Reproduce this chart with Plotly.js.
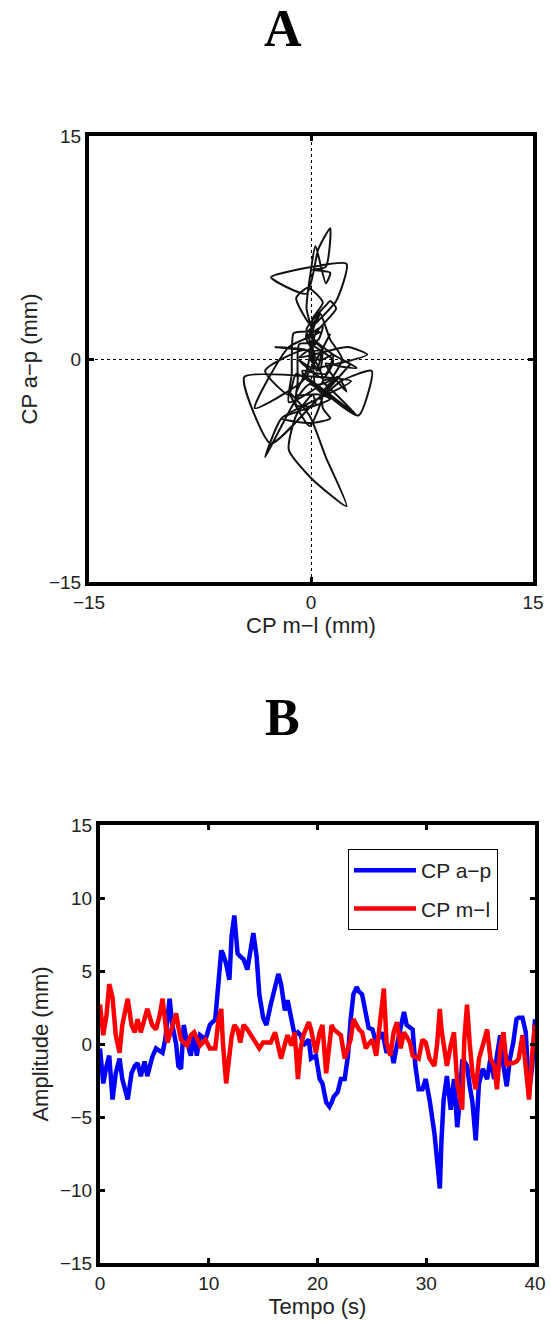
<!DOCTYPE html>
<html><head><meta charset="utf-8">
<script src="https://cdn.plot.ly/plotly-3.0.1.min.js"></script>
<style>html,body{margin:0;padding:0;background:#fff;} #chart{width:551px;height:1321px;}</style>
</head><body><div id="chart"></div>
<script>
// Time (s)
const tempo = [0, 0.3, 0.6, 0.85, 1.15, 1.45, 1.8, 2.05, 2.55, 2.9,
  3.2, 3.45, 3.75, 4.1, 4.35, 4.8, 5.15, 5.5, 5.75, 6.0,
  6.2, 6.4, 6.65, 7.0, 7.2, 7.45, 7.7, 8.0, 8.35, 8.65,
  8.9, 9.2, 9.7, 10.1, 10.6, 10.9, 11.15, 11.3, 11.6, 11.9,
  12.1, 12.35, 12.65, 12.9, 13.2, 13.55, 14.1, 14.4, 14.65, 15.0,
  15.3, 15.7, 16.1, 16.4, 16.65, 17.0, 17.25, 17.6, 17.9, 18.2,
  18.45, 18.7, 19.2, 19.4, 19.85, 20.2, 20.45, 20.8, 21.1, 21.3,
  21.5, 21.85, 22.15, 22.5, 22.8, 23.05, 23.3, 23.6, 23.8, 24.1,
  24.45, 24.7, 25.05, 25.4, 25.7, 25.9, 26.1, 26.35, 26.7, 27.0,
  27.3, 27.65, 27.95, 28.2, 28.5, 28.75, 29.0, 29.3, 29.65, 29.95,
  30.3, 30.75, 31.0, 31.25, 31.4, 31.6, 31.9, 32.25, 32.55, 32.85,
  33.1, 33.3, 33.5, 33.75, 34.0, 34.25, 34.55, 34.85, 35.2, 35.6,
  35.9, 36.25, 36.5, 36.8, 37.1, 37.4, 37.7, 38.0, 38.3, 38.5,
  38.85, 39.15, 39.45, 39.75, 40.0];
// CP a-p (mm)
const cpAP = [-0.3, -2.7, -1.5, -0.8, -3.8, -2.0, -1.0, -2.4, -3.8, -2.0,
  -1.5, -1.3, -2.2, -1.2, -2.2, -0.9, -0.3, -0.5, -0.6, 0.3,
  1.5, 3.1, 1.3, 0.0, -1.5, -1.7, 1.3, 0.1, -0.8, 0.8,
  -0.8, 0.6, 0.3, 1.3, 1.7, 3.9, 6.4, 6.2, 5.5, 4.4,
  7.4, 8.8, 6.2, 6.0, 5.8, 5.1, 7.6, 6.0, 3.4, 1.8,
  1.3, 2.7, 3.8, 4.8, 4.1, 2.3, 3.0, 1.6, 0.6, 0.8,
  0.6, -0.1, 0.3, -1.0, -0.8, -2.4, -2.7, -4.0, -4.3, -4.0,
  -3.6, -3.3, -2.4, -2.4, -0.8, 1.7, 3.4, 3.9, 3.6, 3.4,
  2.0, 1.1, 1.0, 0.1, 0.5, 0.8, 0.3, -0.6, -0.1, -1.3,
  -0.1, 1.3, 2.2, 1.3, 1.1, 1.0, -1.5, -3.1, -3.1, -2.4,
  -3.8, -6.1, -8.0, -9.9, -6.6, -3.8, -2.2, -4.5, -2.4, -5.7,
  -3.8, -1.2, -1.2, -1.5, -2.9, -4.0, -6.6, -2.7, -1.7, -2.4,
  -1.0, -2.4, -0.8, 0.6, -1.5, -2.9, -1.0, 0.1, 1.7, 1.8,
  1.8, 0.8, -3.3, -1.5, 1.7];
// CP m-l (mm)
const cpML = [2.7, 0.6, 2.0, 4.1, 3.2, 0.6, -0.6, 1.3, 3.1, 1.3,
  0.8, 1.7, 0.8, 1.8, 2.4, 1.3, 1.0, 2.0, 3.1, 1.5,
  0.1, 0.6, 1.3, 2.1, 1.2, 0.3, 0.1, -0.1, 0.6, 0.8,
  0.4, -0.1, 0.3, -0.3, -0.3, 1.7, 2.4, 0.1, -2.7, -0.3,
  0.5, 1.3, 1.0, 0.1, 1.3, 1.0, 0.3, 0.0, -0.3, 0.1,
  0.1, 0.1, 0.8, -0.2, -1.0, 0.0, 0.6, -0.1, 0.8, -2.4,
  -0.3, 0.6, 1.5, 1.0, -0.6, 0.8, 1.3, -2.0, 0.0, 1.3,
  1.0, 0.8, 0.6, -1.0, -0.3, 0.3, 1.7, 1.3, 1.0, 0.8,
  -0.3, 0.0, 0.3, -0.8, 1.0, 2.5, 3.8, 0.1, -0.8, 0.8,
  1.5, -0.3, 0.8, 0.5, 0.1, -0.8, -0.9, -1.0, 0.3, 0.1,
  -1.0, -1.5, 0.0, 2.4, 1.0, -0.1, -1.5, -0.1, 0.8, -2.7,
  -3.8, -4.5, 0.3, 2.7, 0.0, -2.0, -3.1, -1.0, -0.1, 1.0,
  -1.0, -1.5, -3.1, -0.3, 0.8, -1.5, -1.3, -1.3, -1.2, -1.0,
  0.6, -1.5, -3.8, -0.6, 1.3];

const ticksA = [-15, 0, 15];
const ticksBx = [0, 10, 20, 30, 40];
const ticksBy = [-15, -10, -5, 0, 5, 10, 15];

const W = 551, H = 1321;
const fx = px => px / W;
const fy = py => 1 - py / H;

const tickFont = {family: 'Liberation Sans, Arial, sans-serif', size: 19, color: '#222'};
const titleFont = {family: 'Liberation Sans, Arial, sans-serif', size: 22, color: '#222'};

const frame = {
  showline: true, linecolor: '#000', linewidth: 4, mirror: 'ticks',
  ticks: 'inside', ticklen: 5, tickwidth: 3, tickcolor: '#000',
  tickfont: tickFont, zeroline: false, fixedrange: true
};

const traces = [
  {x: cpML, y: cpAP, type: 'scatter', mode: 'lines', xaxis: 'x', yaxis: 'y',
   line: {color: '#111', width: 2, shape: 'spline', smoothing: 0.6}, showlegend: false, name: 'CP'},
  {x: tempo, y: cpAP, type: 'scatter', mode: 'lines', xaxis: 'x2', yaxis: 'y2',
   line: {color: '#0000ff', width: 4.5}, name: 'CP a\u2212p', legendgroup: 'a'},
  {x: tempo, y: cpML, type: 'scatter', mode: 'lines', xaxis: 'x2', yaxis: 'y2',
   line: {color: '#ff0000', width: 4.5}, name: 'CP m\u2212l', legendgroup: 'b'}
];

const layout = {
  width: W, height: H,
  margin: {l: 0, r: 0, t: 0, b: 0},
  paper_bgcolor: '#fff', plot_bgcolor: '#fff',
  showlegend: true,
  legend: {x: fx(348), y: fy(849), xanchor: 'left', yanchor: 'top',
           bgcolor: '#fff', bordercolor: '#000', borderwidth: 1,
           font: {family: 'Liberation Sans, Arial, sans-serif', size: 21, color: '#222'},
           traceorder: 'grouped', tracegroupgap: 8, itemwidth: 62},
  xaxis: Object.assign({}, frame, {
    domain: [fx(89), fx(533)], anchor: 'y', range: [-15, 15],
    tickmode: 'array', tickvals: ticksA,
    showgrid: true, gridcolor: '#000', gridwidth: 1, griddash: 'dot',
    title: {text: 'CP m\u2212l (mm)', font: titleFont, standoff: 6}
  }),
  yaxis: Object.assign({}, frame, {
    domain: [fy(582), fy(136)], anchor: 'x', range: [-15, 15],
    tickmode: 'array', tickvals: ticksA,
    showgrid: true, gridcolor: '#000', gridwidth: 1, griddash: 'dot',
    title: {text: 'CP a\u2212p (mm)', font: titleFont, standoff: 6}
  }),
  xaxis2: Object.assign({}, frame, {
    domain: [fx(100), fx(535)], anchor: 'y2', range: [0, 40],
    tickmode: 'array', tickvals: ticksBx, showgrid: false,
    title: {text: 'Tempo (s)', font: titleFont, standoff: 6}
  }),
  yaxis2: Object.assign({}, frame, {
    domain: [fy(1263), fy(825)], anchor: 'x2', range: [-15, 15],
    tickmode: 'array', tickvals: ticksBy, showgrid: false,
    title: {text: 'Amplitude (mm)', font: titleFont, standoff: 6}
  }),
  annotations: [
    {text: '<b>A</b>', xref: 'paper', yref: 'paper', x: fx(283), y: fy(28),
     xanchor: 'center', yanchor: 'middle', showarrow: false,
     font: {family: 'Liberation Serif, Times New Roman, serif', size: 52, color: '#000'}},
    {text: '<b>B</b>', xref: 'paper', yref: 'paper', x: fx(282), y: fy(717),
     xanchor: 'center', yanchor: 'middle', showarrow: false,
     font: {family: 'Liberation Serif, Times New Roman, serif', size: 52, color: '#000'}}
  ]
};

Plotly.newPlot('chart', traces, layout, {displayModeBar: false, staticPlot: true});
</script>
</body></html>
